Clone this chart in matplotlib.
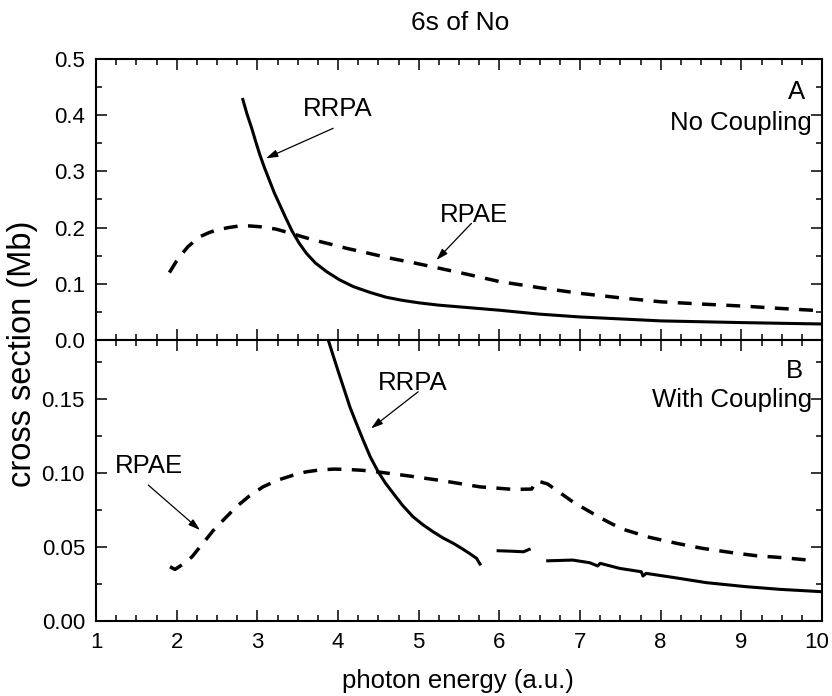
import matplotlib
matplotlib.use("Agg")
import matplotlib.pyplot as plt
from matplotlib.ticker import MultipleLocator, FormatStrFormatter, FuncFormatter

# ── Data ──────────────────────────────────────────────────────────────
# Panel A: no coupling
a_rrpa_x = [2.82, 2.87, 2.93, 2.98, 3.03, 3.09, 3.15, 3.21, 3.28, 3.35, 3.43, 3.52, 3.61,
            3.72, 3.86, 4.02, 4.19, 4.40, 4.60, 4.80, 5.01, 5.25, 5.5, 5.75, 6.0, 6.5, 7.0,
            7.5, 8.0, 8.5, 9.0, 9.5, 10.0]
a_rrpa_y = [0.428, 0.403, 0.377, 0.353, 0.330, 0.306, 0.284, 0.262, 0.240, 0.218, 0.194,
            0.172, 0.154, 0.137, 0.1215, 0.107, 0.095, 0.0845, 0.076, 0.0705, 0.066, 0.062,
            0.059, 0.056, 0.053, 0.046, 0.041, 0.0375, 0.034, 0.0325, 0.031, 0.0297, 0.0285]
a_rpae_x = [1.91, 2.0, 2.07, 2.14, 2.22, 2.29, 2.40, 2.50, 2.64, 2.78, 2.90, 3.03, 3.14,
            3.24, 3.445, 3.6, 3.78, 3.95, 4.11, 4.30, 4.48, 4.70, 4.93, 5.18, 5.6, 6.0, 6.5,
            7.0, 7.5, 8.0, 8.5, 9.0, 9.5, 10.0]
a_rpae_y = [0.120, 0.141, 0.154, 0.166, 0.176, 0.184, 0.191, 0.196, 0.200, 0.203, 0.203,
            0.2016, 0.1995, 0.197, 0.1886, 0.182, 0.175, 0.169, 0.163, 0.157, 0.151, 0.144,
            0.1376, 0.130, 0.117, 0.104, 0.093, 0.083, 0.075, 0.068, 0.064, 0.0605, 0.056,
            0.052]

# Panel B: with coupling
b_rrpa1_x = [3.879, 3.945, 4.011, 4.08, 4.147, 4.23, 4.312, 4.40, 4.498, 4.59, 4.685, 4.80,
             4.93, 5.05, 5.18, 5.30, 5.43, 5.53, 5.63, 5.717, 5.76]
b_rrpa1_y = [0.19, 0.1786, 0.1674, 0.156, 0.1448, 0.1333, 0.1223, 0.111, 0.1009, 0.0931,
             0.0863, 0.0782, 0.0705, 0.0652, 0.0603, 0.0562, 0.0525, 0.0492, 0.0457, 0.0424,
             0.0385]
b_rrpa2_x = [5.985, 6.15, 6.30, 6.37]
b_rrpa2_y = [0.0475, 0.0472, 0.0468, 0.0484]
b_rrpa3_x = [6.60, 6.91, 7.12, 7.22, 7.25, 7.49, 7.76, 7.78, 7.82, 8.15, 8.57, 9.06, 9.48, 10.0]
b_rrpa3_y = [0.0407, 0.0412, 0.0394, 0.0372, 0.0390, 0.0356, 0.0333, 0.0304, 0.0322, 0.0295,
             0.0259, 0.0232, 0.0214, 0.0198]
b_rpae_x = [1.917, 1.98, 2.08, 2.19, 2.29, 2.37, 2.45, 2.60, 2.74, 2.90, 3.07, 3.25, 3.445,
            3.60, 3.78, 3.95, 4.11, 4.30, 4.48, 4.89, 5.30, 5.76, 6.17, 6.40, 6.47, 6.60, 6.75,
            6.91, 7.08, 7.245, 7.39, 7.535, 7.86, 8.20, 8.52, 8.90, 9.19, 9.52, 9.83]
b_rpae_y = [0.0367, 0.0349, 0.0385, 0.0434, 0.0502, 0.0555, 0.061, 0.0695, 0.0772, 0.0845,
            0.0907, 0.0952, 0.0986, 0.1008, 0.1022, 0.1027, 0.1025, 0.1019, 0.1009, 0.098,
            0.0948, 0.0907, 0.089, 0.0892, 0.0948, 0.0926, 0.0868, 0.0806, 0.0752, 0.070,
            0.0658, 0.062, 0.0566, 0.0525, 0.0491, 0.0461, 0.0441, 0.0428, 0.0412]

# ── Style ─────────────────────────────────────────────────────────────
plt.rcParams.update({
    "font.family": ["Liberation Sans", "DejaVu Sans"],
    "lines.scale_dashes": False,
    "axes.linewidth": 1.5,
})
TICK_FS = 16
TXT_FS = 18.5
DASH = (10, 7.5)
XMAX = 10
arrow = dict(arrowstyle="-|>,head_length=0.7,head_width=0.22", lw=0.9, color="black",
             shrinkA=0, shrinkB=0)

fig = plt.figure(figsize=(8.32, 6.96), dpi=100)
ax1 = fig.add_axes([96/832, 1-340/696, 726/832, 281/696])
ax2 = fig.add_axes([96/832, 1-621/696, 726/832, 281/696], sharex=ax1)

# ── Panel A ───────────────────────────────────────────────────────────
ax1.plot(a_rrpa_x, a_rrpa_y, color="black", lw=2.2)
ax1.plot(a_rpae_x, a_rpae_y, color="black", lw=2.5, dashes=DASH)
ax1.set_ylim(0, 0.5)
ax1.yaxis.set_major_locator(MultipleLocator(0.1))
ax1.yaxis.set_minor_locator(MultipleLocator(0.05))
ax1.yaxis.set_major_formatter(FormatStrFormatter("%.1f"))
ax1.tick_params(labelbottom=False)

ax1.text(4.00, 0.3986, "RRPA", fontsize=TXT_FS, ha="center", va="baseline")
ax1.annotate("", xy=(3.107, 0.3233), xytext=(3.94, 0.3767), arrowprops=arrow)
ax1.text(5.684, 0.21, "RPAE", fontsize=TXT_FS, ha="center", va="baseline")
ax1.annotate("", xy=(5.22, 0.1423), xytext=(5.654, 0.2076), arrowprops=arrow)
ax1.text(0.977, 0.8566, "A", transform=ax1.transAxes, fontsize=TXT_FS, ha="right", va="baseline")
ax1.text(0.986, 0.747, "No Coupling", transform=ax1.transAxes, fontsize=TXT_FS,
         ha="right", va="baseline")

# ── Panel B ───────────────────────────────────────────────────────────
for xs, ys in [(b_rrpa1_x, b_rrpa1_y), (b_rrpa2_x, b_rrpa2_y), (b_rrpa3_x, b_rrpa3_y)]:
    ax2.plot(xs, ys, color="black", lw=2.2)
ax2.plot(b_rpae_x, b_rpae_y, color="black", lw=2.5, dashes=DASH)
ax2.set_ylim(0, 0.19)
ax2.yaxis.set_major_locator(MultipleLocator(0.05))
ax2.yaxis.set_minor_locator(MultipleLocator(0.025))
ax2.yaxis.set_major_formatter(FormatStrFormatter("%.2f"))

ax2.text(4.93, 0.1561, "RRPA", fontsize=TXT_FS, ha="center", va="baseline")
ax2.annotate("", xy=(4.41, 0.1302), xytext=(4.994, 0.155), arrowprops=arrow)
ax2.text(1.657, 0.100, "RPAE", fontsize=TXT_FS, ha="center", va="baseline")
ax2.annotate("", xy=(2.289, 0.0615), xytext=(1.648, 0.0919), arrowprops=arrow)
ax2.text(0.974, 0.8637, "B", transform=ax2.transAxes, fontsize=TXT_FS, ha="right", va="baseline")
ax2.text(0.986, 0.7605, "With Coupling", transform=ax2.transAxes, fontsize=TXT_FS,
         ha="right", va="baseline")

# ── Shared axis styling ───────────────────────────────────────────────
ax2.set_xlim(1, XMAX)
ax2.xaxis.set_major_locator(MultipleLocator(1))
ax2.xaxis.set_minor_locator(MultipleLocator(0.25))
# last label ("10") is drawn separately, nudged so it stays inside the canvas
ax2.xaxis.set_major_formatter(FuncFormatter(lambda v, p: "" if v >= XMAX else f"{v:.0f}"))
for ax in (ax1, ax2):
    ax.tick_params(which="both", direction="in", top=True, right=True,
                   labelsize=TICK_FS, width=1.1)
    ax.tick_params(which="major", length=8)
    ax.tick_params(which="minor", length=4.5)
    ax.tick_params(axis="y", pad=8)
    ax.tick_params(axis="x", pad=8)
ax2.annotate(f"{XMAX}", xy=(XMAX, 0), xytext=(-4, -8), textcoords="offset points",
             ha="center", va="top", fontsize=TICK_FS, annotation_clip=False)

fig.text(460/832, 1-23/696, "6s of No", fontsize=19, ha="center", va="center")
fig.text(458/832, 1-688/696, "photon energy (a.u.)", fontsize=18.5, ha="center", va="baseline")
fig.text(23/832, 1-354/696, "cross section (Mb)", fontsize=23.5, rotation=90,
         ha="center", va="center")

fig.savefig("out.png", dpi=100)
